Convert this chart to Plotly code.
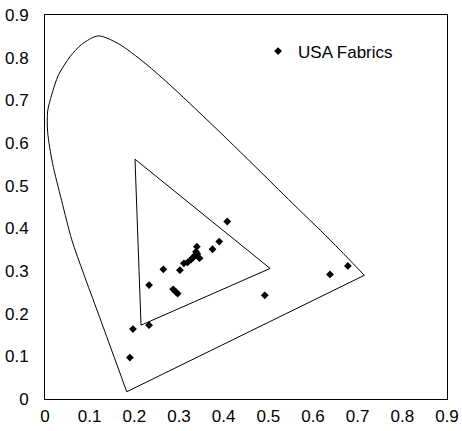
import plotly.graph_objects as go

# Spectral locus, from blue end up the left side, over the top, to the red end
locus_x = [0.183, 0.149, 0.119, 0.086, 0.060, 0.037, 0.017, 0.006, 0.006, 0.015, 0.030, 0.056,
           0.082, 0.119, 0.164, 0.224, 0.284, 0.336, 0.394, 0.452, 0.545, 0.638, 0.715]
locus_y = [0.017, 0.115, 0.201, 0.295, 0.373, 0.466, 0.552, 0.625, 0.675, 0.713, 0.759, 0.802,
           0.831, 0.851, 0.833, 0.787, 0.732, 0.681, 0.623, 0.564, 0.468, 0.373, 0.290]
# Purple line closing the locus
purple_x = [0.183, 0.715]
purple_y = [0.017, 0.290]

# Display gamut triangle
tri_x = [0.2015, 0.504, 0.215, 0.2015]
tri_y = [0.562, 0.306, 0.173, 0.562]

# USA Fabrics chromaticities
fab_x = [0.408, 0.390, 0.375, 0.340, 0.336, 0.331, 0.346, 0.341, 0.327, 0.338, 0.319, 0.311,
         0.302, 0.265, 0.233, 0.287, 0.293, 0.297, 0.492, 0.233, 0.197, 0.190, 0.638, 0.678]
fab_y = [0.416, 0.369, 0.351, 0.357, 0.337, 0.331, 0.330, 0.340, 0.327, 0.345, 0.320, 0.318,
         0.302, 0.304, 0.267, 0.257, 0.251, 0.247, 0.243, 0.173, 0.164, 0.097, 0.292, 0.312]

tick_vals = [0, 0.1, 0.2, 0.3, 0.4, 0.5, 0.6, 0.7, 0.8, 0.9]
tick_text = ["0", "0.1", "0.2", "0.3", "0.4", "0.5", "0.6", "0.7", "0.8", "0.9"]

FONT = "Arial, Liberation Sans, Helvetica, sans-serif"

fig = go.Figure()
fig.add_trace(go.Scatter(x=locus_x, y=locus_y, mode="lines",
                         line=dict(color="black", width=1, shape="spline", smoothing=0.8),
                         showlegend=False, hoverinfo="skip"))
fig.add_trace(go.Scatter(x=purple_x, y=purple_y, mode="lines",
                         line=dict(color="black", width=1),
                         showlegend=False, hoverinfo="skip"))
fig.add_trace(go.Scatter(x=tri_x, y=tri_y, mode="lines",
                         line=dict(color="black", width=1),
                         showlegend=False, hoverinfo="skip"))
fig.add_trace(go.Scatter(x=fab_x, y=fab_y, mode="markers", name="USA Fabrics",
                         marker=dict(symbol="diamond", size=6, color="black")))

fig.update_layout(
    template="none",
    width=462, height=431,
    margin=dict(l=45, r=15, t=15, b=32, pad=0),
    paper_bgcolor="white", plot_bgcolor="white",
    font=dict(family=FONT, size=17, color="black"),
    showlegend=True,
    legend=dict(x=0.53, y=0.905, xanchor="left", yanchor="middle",
                bgcolor="rgba(0,0,0,0)", itemwidth=30, borderwidth=0,
                font=dict(family=FONT, size=17, color="black")),
    xaxis=dict(range=[0, 0.9], tickvals=tick_vals, ticktext=tick_text, automargin=False,
               showgrid=False, zeroline=False, showline=True, mirror=True,
               linecolor="black", linewidth=1, ticks="", ticklabelstandoff=2),
    yaxis=dict(range=[0, 0.9], tickvals=tick_vals, ticktext=tick_text, automargin=False,
               showgrid=False, zeroline=False, showline=True, mirror=True,
               linecolor="black", linewidth=1, ticks="", ticklabelstandoff=12),
)

fig.write_html("out.html", config={"displayModeBar": False},
               post_script="document.body.style.margin='0';document.body.style.overflow='hidden';")
